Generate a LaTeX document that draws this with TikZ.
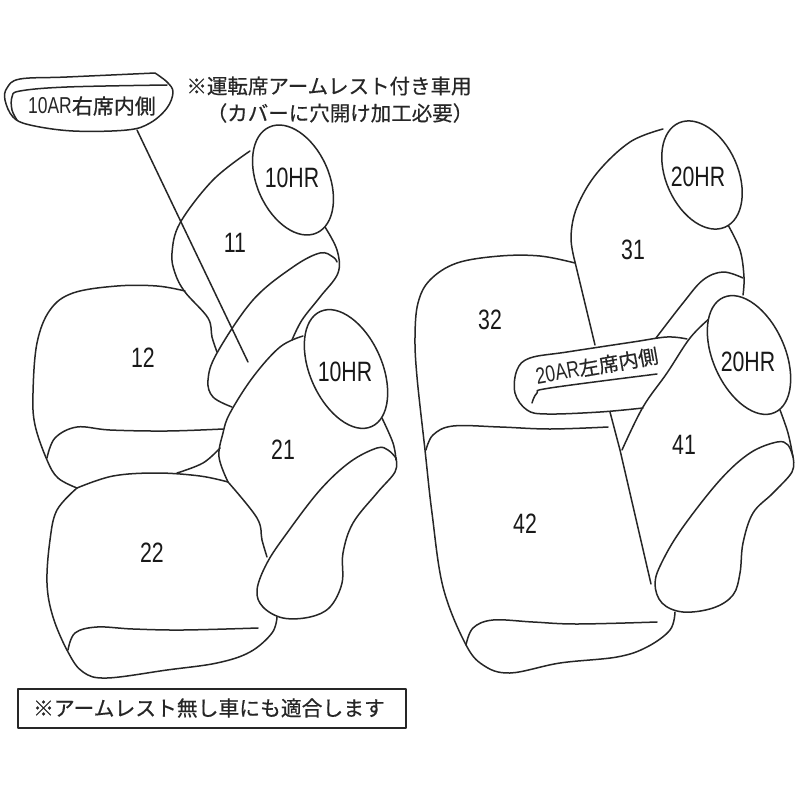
\documentclass[tikz,border=0pt]{standalone}
\usepackage{fontspec}
\usepackage{graphicx}
\setmainfont{Liberation Sans}
\newfontfamily\cjk[FakeBold=0.5]{Noto Sans CJK JP}
\newcommand{\nar}[1]{\scalebox{.76}[1]{#1}}
\tikzset{
  ol/.style={line width=1.5pt,color=black!85,line cap=round,line join=round},
  sm/.style={ol,smooth,tension=.6},
  num/.style={font=\fontsize{28}{28}\selectfont,inner sep=0pt,text=black!90},
  hd/.style={ol,x radius=36,y radius=58},
  jp/.style={font=\cjk\fontsize{20.5}{22}\selectfont,inner sep=0pt,text=black!85},
  ar/.style={inner sep=0pt,text=black!85,font=\fontsize{23}{23}\selectfont},
}
\begin{document}
\begin{tikzpicture}[x=1pt,y=-1pt]
\useasboundingbox (0,0) rectangle (800,800);
\fill[white] (0,0) rectangle (800,800);
% --- left pair
% 11
\draw[ol] plot[sm] coordinates {(250,151)(213,180)(180,223)(172,253)(175,273)(185,292)(208,318)(212,337)(217,352)};
\draw[ol] plot[sm] coordinates {(325,227)(337,250)(338,273)(320,297)(302,320)(292,340)};
\draw[ol] plot[sm] coordinates {(232,407)(213,397)(208,380)(217,353)(253,300)(293,267)(320,253)(333,257)(337,262)};
% 12
\draw[ol] plot[sm] coordinates {(185,291)(157,286)(117,286)(73,293)(50,310)(37,343)(33,393)(35,425)(47,460)(58,478)(77,488)};
\draw[ol] plot[sm] coordinates {(47,458)(55,438)(77,427)(110,430)(167,431)(223,429)};
\draw[ol] plot[sm] coordinates {(220,448)(203,463)(177,473)};
% 21
\draw[ol] plot[sm] coordinates {(303,336)(280,347)(253,377)(230,413)(223,433)(219,457)(228,482)};
\draw[ol] plot[sm] coordinates {(382,418)(393,443)(396,460)};
\draw[ol] plot[sm] coordinates {(396,458)(388,450)(377,448)(350,462)(320,490)(287,533)(267,563)(257,590)(263,607)(283,618)(310,617)(330,607)(342,583)(343,553)(353,523)(377,493)(395,472)(396,458)};
% 22
\draw[ol] plot[sm] coordinates {(77,488)(57,510)(50,540)(47,583)(53,617)(68,652)(83,672)(107,678)(167,670)(217,663)(250,652)(272,633)(277,617)};
\draw[ol] plot[sm] coordinates {(77,488)(113,476)(157,473)(200,476)(228,482)};
\draw[ol] plot[sm] coordinates {(228,482)(257,518)(262,540)(267,557)};
\draw[ol] plot[sm] coordinates {(68,650)(75,633)(97,627)(133,629)(183,630)(258,628)};
% headrests left
\draw[hd,fill=white] (293,180) ellipse [x radius=36,y radius=58,rotate=24];
\draw[hd,fill=white] (346,369) ellipse [x radius=36,y radius=63,rotate=24];
% armrest 10AR
\draw[ol] (137,130) -- (248,362);
\draw[ol,fill=white] plot[sm] coordinates {(155,73)(67,77)(20,79)(7,88)(5,100)(13,117)(30,125)(73,131)(127,130)(150,123)(167,108)(173,92)(167,82)(155,73)};
\draw[ol] plot[sm] coordinates {(167,85)(67,87)(20,91)(12,97)(12,110)(17,120)};
% --- right pair
% 31
\draw[ol] plot[sm] coordinates {(663,129)(630,142)(597,173)(577,207)(571,237)(575,262)};
\draw[ol] (575,262) -- (595,345);
\draw[ol] plot[sm] coordinates {(728,225)(740,250)(744,277)(743,295)};
\draw[ol] plot[sm] coordinates {(656,338)(683,303)(703,280)(723,272)(743,278)};
% 32 and 42
\draw[ol] plot[sm] coordinates {(575,263)(540,256)(500,256)(457,263)(430,280)(418,303)(415,337)(417,377)(425,450)(432,513)(443,587)(465,643)(483,665)(510,673)(560,663)(617,657)(647,647)(670,630)(675,612)};
\draw[ol] plot[sm] coordinates {(426,450)(433,435)(453,426)(500,427)(550,429)(608,427)};
\draw[ol] plot[sm] coordinates {(466,645)(473,628)(493,620)(533,622)(577,624)(657,622)};
\draw[ol] (610,412) -- (620,450) -- (651,584);
% 41
\draw[ol] plot[sm] coordinates {(710,318)(690,338)(667,373)(643,407)(622,450)};
\draw[ol] plot[sm] coordinates {(780,410)(788,433)(793,457)};
\draw[ol] plot[sm] coordinates {(793,457)(788,445)(777,442)(750,453)(720,480)(683,527)(663,560)(655,583)(662,603)(683,612)(713,608)(733,595)(740,573)(743,543)(753,513)(773,493)(792,472)(793,457)};
% armrest 20AR
\draw[ol] plot[sm] coordinates {(687,339)(667,337)(633,342)(567,352)(530,358)(517,370)(515,393)(527,410)(547,414)(600,412)(643,408)};
\draw[ol] plot[sm] coordinates {(532,403)(537,393)(550,388)(657,374)};
% headrests right
\draw[hd,fill=white] (702,175) ellipse [x radius=36,y radius=57,rotate=24];
\draw[hd,fill=white] (749,355) ellipse [x radius=36,y radius=63,rotate=24];
% note box
\draw[ol,line cap=butt] (18,689) rectangle (406,728);
% labels
\node[num] (hA) at (292,178) {\nar{10HR}};
\node[num] (hB) at (345,372) {\nar{10HR}};
\node[num] (hC) at (698,177) {\nar{20HR}};
\node[num] (hD) at (748,362) {\nar{20HR}};
\node[num] (n11) at (235,243) {\nar{11}};
\node[num] (n12) at (143,358) {\nar{12}};
\node[num] (n21) at (283,450) {\nar{21}};
\node[num] (n22) at (152,553) {\nar{22}};
\node[num] (n31) at (633,250) {\nar{31}};
\node[num] (n32) at (490,320) {\nar{32}};
\node[num] (n41) at (684,445) {\nar{41}};
\node[num] (n42) at (525,524) {\nar{42}};
\node[ar] (arA) at (92,106) {\nar{10AR}{\cjk\fontsize{21}{21}\selectfont 右席内側}};
\node[ar,rotate=10] (arB) at (597,366) {\nar{20AR}{\cjk\fontsize{20}{20}\selectfont 左席内側}};
\node[jp] (t1) at (329,86) {※運転席アームレスト付き車用};
\node[jp] (t2) at (340,113) {（カバーに穴開け加工必要）};
\node[jp,font=\cjk\fontsize{20.8}{22}\selectfont] (t3) at (209,708) {※アームレスト無し車にも適合します};
\end{tikzpicture}
\end{document}
